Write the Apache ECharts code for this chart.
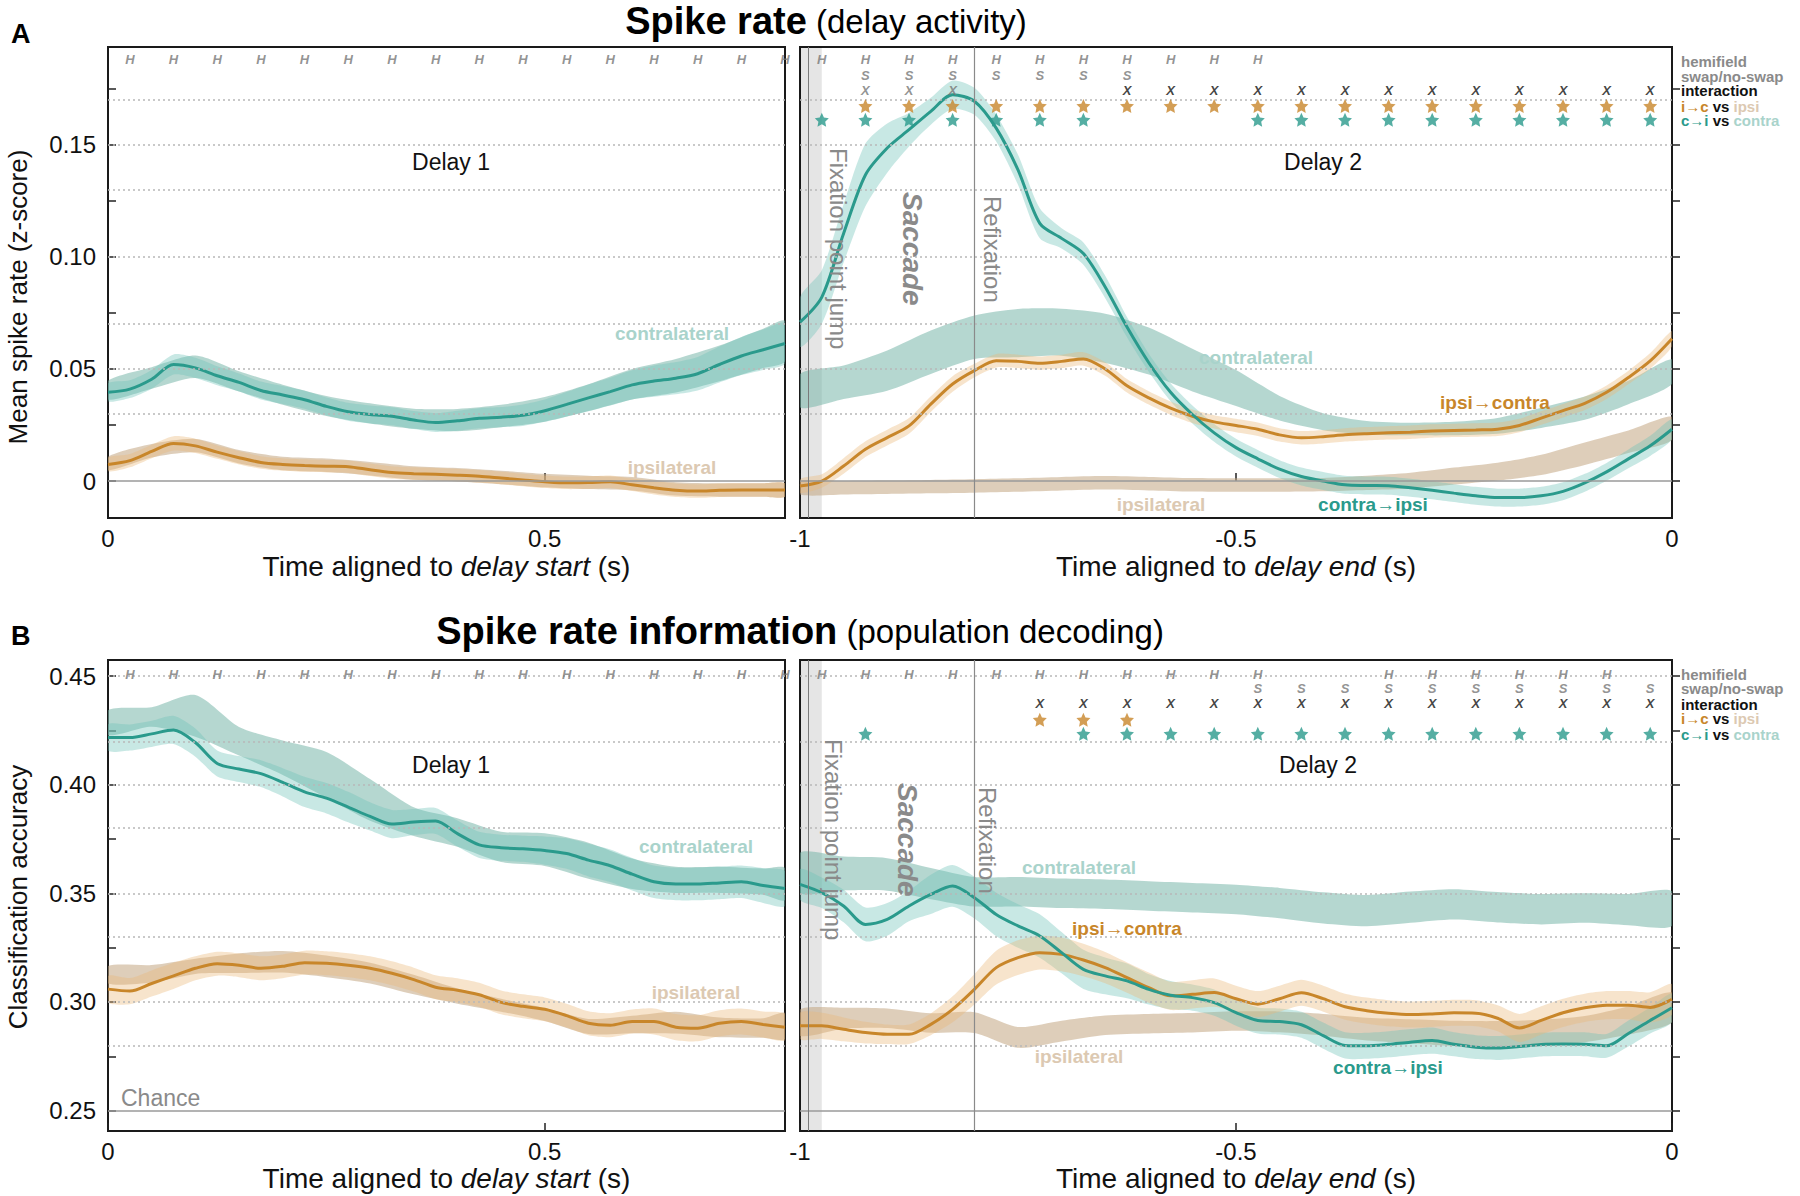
<!DOCTYPE html>
<html>
<head>
<meta charset="utf-8">
<title>Spike rate (delay activity) / Spike rate information</title>
<script src="https://cdn.jsdelivr.net/npm/echarts@6.0.0/dist/echarts.min.js"></script>
<style>
  html, body { margin: 0; padding: 0; background: #fff; }
  #chart { width: 1800px; height: 1196px; }
</style>
</head>
<body>
<div id="chart"></div>
<script>
// sample times (s)
function steps(start, stop, step) {
  const out = [];
  for (let k = 0; start + k * step <= stop + 1e-9; k++) out.push(+(start + k * step).toFixed(3));
  return out;
}
const tD1 = steps(0, 0.775, 0.025);               // delay 1 lines
const tD2 = steps(-1, 0, 0.025);                  // delay 2 lines
const tD1Band = steps(0, 0.75, 0.05).concat([0.775]);
const tD2Band = steps(-1, 0, 0.05);

// ---- A: mean spike rate (z-score) ----
const rateD1CtoI = [0.0396,0.041,0.0454,0.052,0.0505,0.047,0.044,0.0404,0.0384,0.0363,0.0333,0.0309,0.0297,0.0289,0.0272,0.0261,0.0269,0.028,0.0285,0.0294,0.0314,0.0342,0.0371,0.0399,0.0429,0.0446,0.0459,0.0479,0.052,0.0558,0.0586,0.0614];
const rateD1CtoIErr = [0.004,0.004,0.0042,0.0045,0.0045,0.0042,0.004,0.004,0.004,0.004,0.004,0.004,0.004,0.004,0.004,0.0042,0.0045,0.0045,0.0045,0.0048,0.005,0.0055,0.006,0.0062,0.0065,0.007,0.0072,0.0075,0.008,0.0085,0.009,0.009];
const rateD1ItoC = [0.0074,0.0091,0.0132,0.0168,0.0157,0.0129,0.0104,0.0083,0.0074,0.0069,0.0066,0.0064,0.005,0.0038,0.0033,0.003,0.0026,0.0021,0.0013,0.0005,-0.0003,-0.0008,-0.0007,-0.0003,-0.0017,-0.003,-0.0041,-0.0045,-0.0041,-0.004,-0.004,-0.004];
const rateD1ItoCErr = [0.003,0.003,0.003,0.0032,0.0032,0.003,0.003,0.0028,0.0028,0.0028,0.0028,0.0028,0.0028,0.0028,0.0028,0.0028,0.0028,0.0028,0.0028,0.0028,0.0028,0.0028,0.0028,0.0028,0.0028,0.003,0.003,0.003,0.003,0.003,0.003,0.003];
const rateD1Contra = [0.0405,0.046,0.051,0.0445,0.0385,0.0335,0.0302,0.0278,0.0272,0.029,0.032,0.0372,0.0432,0.047,0.0525,0.0592,0.0625];
const rateD1ContraErr = [0.0042,0.0048,0.005,0.0045,0.0045,0.0045,0.0045,0.0045,0.005,0.005,0.0055,0.006,0.0068,0.0075,0.008,0.0088,0.009];
const rateD1Ipsi = [0.0078,0.0135,0.0158,0.0108,0.0078,0.007,0.0055,0.0036,0.0028,0.0016,0.0002,-0.0006,-0.0012,-0.0035,-0.004,-0.004,-0.004];
const rateD1IpsiErr = [0.003,0.003,0.003,0.003,0.003,0.003,0.003,0.003,0.003,0.003,0.003,0.003,0.003,0.003,0.003,0.003,0.003];

const rateD2CtoI = [0.0709,0.0821,0.1105,0.1366,0.1486,0.1568,0.165,0.1724,0.1695,0.1575,0.1389,0.115,0.1083,0.1015,0.0866,0.0687,0.0528,0.0396,0.0297,0.0215,0.0149,0.0099,0.0053,0.002,0,-0.0017,-0.002,-0.0021,-0.003,-0.0041,-0.0054,-0.0066,-0.0074,-0.0074,-0.0066,-0.0046,-0.0008,0.0041,0.0099,0.0157,0.0231];
const rateD2CtoIErr = [0.011,0.012,0.013,0.014,0.011,0.0075,0.006,0.0063,0.006,0.006,0.0067,0.0067,0.0045,0.005,0.005,0.0045,0.004,0.004,0.004,0.004,0.004,0.004,0.004,0.004,0.004,0.004,0.004,0.004,0.004,0.004,0.004,0.004,0.004,0.004,0.004,0.004,0.004,0.004,0.0042,0.0045,0.0045];
const rateD2ItoC = [-0.0022,0,0.0067,0.0142,0.0194,0.0246,0.0343,0.0433,0.0493,0.0537,0.0534,0.0526,0.0534,0.0545,0.05,0.0425,0.0371,0.0325,0.0289,0.0264,0.0248,0.0231,0.0206,0.0193,0.0198,0.0206,0.0211,0.0215,0.0218,0.0223,0.0226,0.0228,0.0231,0.0248,0.0281,0.0314,0.0347,0.0396,0.0462,0.0536,0.0635];
const rateD2ItoCErr = [0.003,0.003,0.0035,0.0035,0.0035,0.0035,0.0035,0.0035,0.003,0.003,0.003,0.003,0.003,0.003,0.003,0.003,0.003,0.003,0.003,0.003,0.003,0.003,0.003,0.003,0.003,0.003,0.003,0.003,0.003,0.003,0.003,0.003,0.003,0.003,0.003,0.003,0.003,0.003,0.003,0.0035,0.0035];
const rateD2Contra = [0.0403,0.0441,0.0493,0.0575,0.0642,0.066,0.0664,0.0637,0.058,0.0495,0.0415,0.0325,0.0265,0.0238,0.0232,0.0234,0.0246,0.0282,0.0325,0.0395,0.0488];
const rateD2ContraErr = [0.0075,0.0075,0.009,0.0097,0.0097,0.0108,0.0105,0.011,0.0105,0.0095,0.008,0.0055,0.0038,0.003,0.0028,0.003,0.0035,0.0045,0.0052,0.0052,0.0055];
const rateD2Ipsi = [-0.003,-0.003,-0.0028,-0.0025,-0.0022,-0.0018,-0.0012,-0.0008,-0.0012,-0.0017,-0.0018,-0.0018,-0.0016,-0.0008,0.0002,0.0022,0.0042,0.0072,0.0122,0.0175,0.0235];
const rateD2IpsiErr = [0.003,0.003,0.003,0.003,0.003,0.003,0.003,0.003,0.003,0.003,0.003,0.003,0.003,0.0032,0.0035,0.0038,0.004,0.0045,0.005,0.005,0.0052];

// ---- B: classification accuracy ----
const infoD1CtoI = [0.4217,0.4217,0.4234,0.4252,0.4194,0.4098,0.4072,0.4051,0.4011,0.3967,0.3938,0.3897,0.3854,0.3819,0.3828,0.3833,0.3775,0.3723,0.371,0.3705,0.3697,0.3683,0.3653,0.3627,0.3588,0.3553,0.3543,0.3543,0.3548,0.3553,0.3536,0.3522];
const infoD1CtoIErr = [0.006,0.006,0.006,0.0065,0.0065,0.006,0.006,0.0062,0.0065,0.007,0.007,0.007,0.0065,0.0065,0.006,0.006,0.006,0.006,0.006,0.006,0.0065,0.007,0.0075,0.0075,0.0075,0.0075,0.0075,0.0075,0.0075,0.0075,0.008,0.008];
const infoD1ItoC = [0.3059,0.305,0.3085,0.312,0.3155,0.3176,0.3169,0.3155,0.3164,0.3181,0.3178,0.3169,0.3155,0.3132,0.3103,0.3068,0.3054,0.3033,0.2998,0.298,0.2966,0.2937,0.2902,0.2893,0.291,0.291,0.2884,0.2879,0.2902,0.291,0.2896,0.2884];
const infoD1ItoCErr = [0.006,0.006,0.006,0.006,0.0055,0.0055,0.0055,0.0055,0.0055,0.0055,0.0055,0.0055,0.0055,0.0055,0.0055,0.0055,0.0055,0.0055,0.0055,0.0055,0.0055,0.0055,0.0055,0.0055,0.0055,0.006,0.006,0.006,0.006,0.006,0.006,0.006];
const infoD1Contra = [0.4286,0.4312,0.4317,0.42,0.4124,0.4045,0.393,0.383,0.378,0.3714,0.3701,0.365,0.359,0.3562,0.3562,0.3554,0.3543];
const infoD1ContraErr = [0.0057,0.0045,0.0096,0.0066,0.0079,0.0105,0.0096,0.0066,0.0066,0.007,0.0075,0.0083,0.007,0.006,0.006,0.006,0.0074];
const infoD1Ipsi = [0.3125,0.313,0.3164,0.3178,0.3185,0.3164,0.3133,0.308,0.3027,0.2985,0.2942,0.2887,0.2896,0.2905,0.2883,0.288,0.2889];
const infoD1IpsiErr = [0.004,0.004,0.0035,0.0045,0.005,0.005,0.0048,0.0045,0.0035,0.003,0.003,0.0035,0.004,0.005,0.0045,0.0045,0.006];

const infoD2CtoI = [0.3541,0.3503,0.3442,0.3357,0.338,0.3442,0.3495,0.3534,0.348,0.3403,0.335,0.3304,0.3227,0.315,0.312,0.3097,0.3058,0.3031,0.302,0.2997,0.2951,0.2915,0.291,0.2895,0.2845,0.28,0.2798,0.2805,0.2815,0.2822,0.2805,0.2792,0.2788,0.2795,0.2804,0.2806,0.2805,0.2798,0.2855,0.2915,0.2973];
const infoD2CtoIErr = [0.007,0.007,0.0075,0.0078,0.0075,0.007,0.009,0.0096,0.0096,0.01,0.01,0.01,0.0095,0.009,0.0085,0.008,0.007,0.0065,0.006,0.006,0.006,0.006,0.006,0.006,0.006,0.006,0.006,0.006,0.006,0.006,0.0055,0.0055,0.0055,0.0055,0.0055,0.0055,0.0055,0.0055,0.006,0.006,0.0065];
const infoD2ItoC = [0.289,0.289,0.2874,0.2859,0.2851,0.2851,0.2897,0.2966,0.3058,0.3158,0.3204,0.3227,0.3219,0.3193,0.3158,0.3112,0.3066,0.3028,0.3035,0.3043,0.3015,0.299,0.3015,0.3042,0.3015,0.2978,0.296,0.2948,0.2942,0.2945,0.295,0.2948,0.2925,0.288,0.2915,0.295,0.2973,0.2985,0.2985,0.2975,0.3012];
const infoD2ItoCErr = [0.006,0.006,0.0055,0.005,0.0045,0.0045,0.005,0.006,0.007,0.0078,0.008,0.0078,0.0078,0.0075,0.0072,0.007,0.007,0.0065,0.0065,0.0065,0.006,0.006,0.006,0.006,0.006,0.006,0.006,0.006,0.006,0.006,0.006,0.006,0.006,0.0065,0.0065,0.0065,0.0065,0.0065,0.0065,0.007,0.007];
const infoD2Contra = [0.3595,0.3591,0.3587,0.3545,0.3507,0.3507,0.35,0.3496,0.3488,0.348,0.3472,0.3455,0.3433,0.342,0.3436,0.3449,0.3436,0.3427,0.3432,0.3425,0.343];
const infoD2ContraErr = [0.0092,0.0078,0.0075,0.0072,0.0068,0.0068,0.0068,0.0068,0.0068,0.0068,0.0068,0.007,0.0072,0.0072,0.0072,0.007,0.007,0.007,0.0068,0.0072,0.008];
const infoD2Ipsi = [0.2905,0.2925,0.2925,0.2903,0.2905,0.2837,0.2866,0.2893,0.29,0.2904,0.2912,0.2908,0.2895,0.2875,0.2865,0.2855,0.2852,0.2858,0.2875,0.2915,0.2975];
const infoD2IpsiErr = [0.006,0.0048,0.0045,0.0045,0.0048,0.0048,0.0048,0.0045,0.0045,0.0045,0.0045,0.0048,0.005,0.0052,0.0055,0.0058,0.006,0.006,0.006,0.0065,0.0068];

// significance markers: 50 ms bin indices
const rateD1Hemi = [0,1,2,3,4,5,6,7,8,9,10,11,12,13,14,15];
const rateD2Hemi = [0,1,2,3,4,5,6,7,8,9,10];
const rateD2Swap = [1,2,3,4,5,6,7];
const rateD2InterWeak = [1,2,3];
const rateD2Inter = [7,8,9,10,11,12,13,14,15,16,17,18,19];
const rateD2IcStar = [1,2,3,4,5,6,7,8,9,10,11,12,13,14,15,16,17,18,19];
const rateD2CiStar = [0,1,2,3,4,5,6,10,11,12,13,14,15,16,17,18,19];
const infoD1Hemi = [0,1,2,3,4,5,6,7,8,9,10,11,12,13,14,15];
const infoD2Hemi = [0,1,2,3,4,5,6,7,8,9,10,13,14,15,16,17,18];
const infoD2Swap = [10,11,12,13,14,15,16,17,18,19];
const infoD2Inter = [5,6,7,8,9,10,11,12,13,14,15,16,17,18,19];
const infoD2IcStar = [5,6,7];
const infoD2CiStar = [1,6,7,8,9,10,11,12,13,14,15,16,17,18,19];

const yTicksRate = [0, 0.025, 0.05, 0.075, 0.1, 0.125, 0.15, 0.175];
const yLabelsRate = [0, 0.05, 0.1, 0.15];
const yTicksInfo = [0.25, 0.275, 0.3, 0.325, 0.35, 0.375, 0.4, 0.425, 0.45];
const yLabelsInfo = [0.25, 0.3, 0.35, 0.4, 0.45];

// ---------------------------------------------------------------
const FONT = '"Liberation Sans", Arial, Helvetica, sans-serif';
const TEAL = '#2a9a8c', ORANGE = '#c8862a';
const LIGHT_TEAL = '#a9d3cb', LIGHT_TAN = '#dcc9b2', GREY = '#8a8a8a';
const C_CONTRA = 'rgba(120,182,170,0.55)';
const C_CTOI = 'rgba(110,195,185,0.38)';
const C_IPSI = 'rgba(195,165,130,0.55)';
const C_ITOC = 'rgba(235,185,120,0.38)';
const STAR = 'path://M12 1.5l3.1 6.6 7.2.9-5.3 5 1.4 7.1L12 17.6l-6.4 3.5 1.4-7.1-5.3-5 7.2-.9z';

const series = [];

// shaded band between center-half and center+half, drawn as one polygon
function band(gi, t, center, half, color) {
  const data = t.map((x, i) => [x, center[i] - half[i], center[i] + half[i]]);
  series.push({
    type: 'custom', xAxisIndex: gi, yAxisIndex: gi, silent: true, z: 2, clip: true,
    data: data, encode: { x: 0, y: [1, 2] },
    renderItem: function (params, api) {
      if (params.dataIndex !== 0) return;
      const up = [], lo = [];
      for (let i = 0; i < data.length; i++) {
        up.push(api.coord([data[i][0], data[i][2]]));
        lo.push(api.coord([data[i][0], data[i][1]]));
      }
      return { type: 'polygon', shape: { points: up.concat(lo.reverse()), smooth: 0.25 },
        style: { fill: color } };
    }
  });
}

function meanLine(gi, t, vals, color) {
  series.push({ type: 'line', xAxisIndex: gi, yAxisIndex: gi, symbol: 'none', smooth: 0.3,
    silent: true, z: 3, data: t.map((x, i) => [x, vals[i]]),
    lineStyle: { color: color, width: 3 } });
}

function guides(gi, gridVals, refVal, epochs) {
  const lines = gridVals.map(v => ({ yAxis: v, lineStyle: { type: [2, 3], color: '#b8b8b8', width: 1.5 } }));
  lines.push({ yAxis: refVal, lineStyle: { type: 'solid', color: '#9a9a9a', width: 1.5 } });
  const s = { type: 'line', xAxisIndex: gi, yAxisIndex: gi, data: [], z: 1, silent: true,
    markLine: { symbol: ['none', 'none'], silent: true, animation: false, label: { show: false }, data: lines } };
  if (epochs) {
    s.markArea = { silent: true, itemStyle: { color: 'rgba(0,0,0,0.1)' },
      data: [[{ xAxis: -1 }, { xAxis: -0.975 }]] };
    series.push(s);
    series.push({ type: 'line', xAxisIndex: gi, yAxisIndex: gi, data: [], z: 4, silent: true,
      markLine: { symbol: ['none', 'none'], silent: true, animation: false, label: { show: false },
        data: [
          { xAxis: -0.987, lineStyle: { type: 'solid', color: '#7a7a7a', width: 1 } },
          { xAxis: -0.8, lineStyle: { type: 'solid', color: '#8a8a8a', width: 1.2 } }
        ] } });
  } else {
    series.push(s);
  }
}

function letterRow(gi, bins, t0, rowY, text, color) {
  series.push({ type: 'scatter', xAxisIndex: gi, yAxisIndex: gi, silent: true, z: 6,
    data: bins.map(k => [t0 + 0.05 * k, rowY]), symbolSize: 1,
    itemStyle: { color: 'rgba(0,0,0,0)' },
    label: { show: true, position: 'inside', formatter: text, color: color, fontSize: 13,
      lineHeight: 12, fontWeight: 'bold', fontStyle: 'italic', fontFamily: FONT } });
}

function starRow(gi, bins, t0, rowY, color) {
  series.push({ type: 'scatter', xAxisIndex: gi, yAxisIndex: gi, silent: true, z: 6,
    data: bins.map(k => [t0 + 0.05 * k, rowY]), symbol: STAR, symbolSize: 14,
    itemStyle: { color: color } });
}

// grid 0: A delay 1, grid 1: A delay 2, grid 2: B delay 1, grid 3: B delay 2
guides(0, yTicksRate.slice(1), 0, false);
guides(1, yTicksRate.slice(1), 0, true);
guides(2, yTicksInfo.slice(1), 0.25, false);
guides(3, yTicksInfo.slice(1), 0.25, true);

band(0, tD1Band, rateD1Contra, rateD1ContraErr, C_CONTRA);
band(0, tD1Band, rateD1Ipsi, rateD1IpsiErr, C_IPSI);
band(0, tD1, rateD1CtoI, rateD1CtoIErr, C_CTOI);
band(0, tD1, rateD1ItoC, rateD1ItoCErr, C_ITOC);
meanLine(0, tD1, rateD1ItoC, ORANGE);
meanLine(0, tD1, rateD1CtoI, TEAL);

band(1, tD2Band, rateD2Contra, rateD2ContraErr, C_CONTRA);
band(1, tD2Band, rateD2Ipsi, rateD2IpsiErr, C_IPSI);
band(1, tD2, rateD2CtoI, rateD2CtoIErr, C_CTOI);
band(1, tD2, rateD2ItoC, rateD2ItoCErr, C_ITOC);
meanLine(1, tD2, rateD2ItoC, ORANGE);
meanLine(1, tD2, rateD2CtoI, TEAL);

band(2, tD1Band, infoD1Contra, infoD1ContraErr, C_CONTRA);
band(2, tD1Band, infoD1Ipsi, infoD1IpsiErr, C_IPSI);
band(2, tD1, infoD1CtoI, infoD1CtoIErr, C_CTOI);
band(2, tD1, infoD1ItoC, infoD1ItoCErr, C_ITOC);
meanLine(2, tD1, infoD1ItoC, ORANGE);
meanLine(2, tD1, infoD1CtoI, TEAL);

band(3, tD2Band, infoD2Contra, infoD2ContraErr, C_CONTRA);
band(3, tD2Band, infoD2Ipsi, infoD2IpsiErr, C_IPSI);
band(3, tD2, infoD2CtoI, infoD2CtoIErr, C_CTOI);
band(3, tD2, infoD2ItoC, infoD2ItoCErr, C_ITOC);
meanLine(3, tD2, infoD2ItoC, ORANGE);
meanLine(3, tD2, infoD2CtoI, TEAL);

// marker rows (y in axis units)
const rowRate = { hemi: 0.1880, swap: 0.1812, inter: 0.1745, ic: 0.1674, ci: 0.1612 };
const rowInfo = { hemi: 0.4508, swap: 0.4443, inter: 0.4376, ic: 0.4299, ci: 0.4234 };

letterRow(0, rateD1Hemi, 0.025, rowRate.hemi, 'H', '#777');
letterRow(1, rateD2Hemi, -0.975, rowRate.hemi, 'H', '#777');
letterRow(1, rateD2Swap, -0.975, rowRate.swap, 'S', '#777');
letterRow(1, rateD2InterWeak, -0.975, rowRate.inter, 'X', '#777');
letterRow(1, rateD2Inter, -0.975, rowRate.inter, 'X', '#111');
starRow(1, rateD2IcStar, -0.975, rowRate.ic, ORANGE);
starRow(1, rateD2CiStar, -0.975, rowRate.ci, TEAL);

letterRow(2, infoD1Hemi, 0.025, rowInfo.hemi, 'H', '#777');
letterRow(3, infoD2Hemi, -0.975, rowInfo.hemi, 'H', '#777');
letterRow(3, infoD2Swap, -0.975, rowInfo.swap, 'S', '#777');
letterRow(3, infoD2Inter, -0.975, rowInfo.inter, 'X', '#111');
starRow(3, infoD2IcStar, -0.975, rowInfo.ic, ORANGE);
starRow(3, infoD2CiStar, -0.975, rowInfo.ci, TEAL);

// axes
function xAx(gi, min, max, ticks, italic, gap) {
  return { type: 'value', gridIndex: gi, min: min, max: max,
    axisLine: { show: false }, splitLine: { show: false },
    axisTick: { show: true, inside: true, length: 8, customValues: ticks, lineStyle: { color: '#222', width: 1.5 } },
    axisLabel: { customValues: ticks, margin: 8, fontSize: 24, color: '#111', fontFamily: FONT,
      formatter: v => (v === 0 ? '0' : String(v)) },
    name: 'Time aligned to {i|' + italic + '} (s)', nameLocation: 'middle', nameGap: gap,
    nameTextStyle: { fontSize: 28, color: '#111', fontFamily: FONT,
      rich: { i: { fontSize: 28, fontStyle: 'italic', color: '#111', fontFamily: FONT } } } };
}
function yAx(gi, min, max, ticks, labels, showLabels) {
  return { type: 'value', gridIndex: gi, min: min, max: max,
    axisLine: { show: false }, splitLine: { show: false },
    axisTick: { show: true, inside: true, length: 8, customValues: ticks, lineStyle: { color: '#222', width: 1.5 } },
    axisLabel: { show: showLabels, customValues: labels, margin: 12, fontSize: 24, color: '#111', fontFamily: FONT,
      formatter: v => (v === 0 ? '0' : v.toFixed(2)) } };
}

function txt(x, y, text, size, color, extra, rotation) {
  const el = { type: 'text', x: x, y: y, silent: true, z: 100,
    style: Object.assign({ text: text, fontSize: size, fontFamily: FONT, fill: color,
      align: 'center', verticalAlign: 'middle' }, extra || {}) };
  if (rotation) el.rotation = rotation;
  return el;
}
function richPart(size, color, weight, style, lh) {
  const r = { fontSize: size, fill: color, fontWeight: weight || 'normal', fontStyle: style || 'normal', fontFamily: FONT };
  if (lh) r.lineHeight = lh;
  return r;
}
function keyRows(x, ys) {
  const b = { align: 'left', fontWeight: 'bold', lineHeight: 12 };
  return [
    txt(x, ys[0], 'hemifield', 15, GREY, b),
    txt(x, ys[1], 'swap/no-swap', 15, GREY, b),
    txt(x, ys[2], 'interaction', 15, '#111', b),
    txt(x, ys[3], '{a|i→c} {k|vs} {b|ipsi}', 15, '#111', Object.assign({
      rich: { a: richPart(15, ORANGE, 'bold', null, 12), k: richPart(15, '#111', 'bold', null, 12),
        b: richPart(15, LIGHT_TAN, 'bold', null, 12) } }, b)),
    txt(x, ys[4], '{a|c→i} {k|vs} {b|contra}', 15, '#111', Object.assign({
      rich: { a: richPart(15, TEAL, 'bold', null, 12), k: richPart(15, '#111', 'bold', null, 12),
        b: richPart(15, LIGHT_TEAL, 'bold', null, 12) } }, b))
  ];
}
function epochText(xFix, xSac, xRef, top) {
  const down = -Math.PI / 2, l = { align: 'left' };
  return [
    txt(xFix, top, 'Fixation point jump', 24, GREY, l, down),
    txt(xSac, top + 44, 'Saccade', 28, GREY, { align: 'left', fontWeight: 'bold', fontStyle: 'italic' }, down),
    txt(xRef, top + 48, 'Refixation', 24, GREY, l, down)
  ];
}

const bold19 = { fontWeight: 'bold' };
const graphic = [
  txt(826, 21, '{b|Spike rate} {n|(delay activity)}', 33, '#000', {
    rich: { b: richPart(38, '#000', 'bold'), n: richPart(33, '#000') } }),
  txt(800, 631, '{b|Spike rate information} {n|(population decoding)}', 33, '#000', {
    rich: { b: richPart(38, '#000', 'bold'), n: richPart(33, '#000') } }),
  txt(11, 34, 'A', 27, '#000', { align: 'left', fontWeight: 'bold' }),
  txt(11, 636, 'B', 27, '#000', { align: 'left', fontWeight: 'bold' }),
  txt(18, 297, 'Mean spike rate (z-score)', 26, '#111', null, Math.PI / 2),
  txt(18, 897, 'Classification accuracy', 26, '#111', null, Math.PI / 2),
  txt(451, 162, 'Delay 1', 23, '#111'),
  txt(1323, 162, 'Delay 2', 23, '#111'),
  txt(451, 765, 'Delay 1', 23, '#111'),
  txt(1318, 765, 'Delay 2', 23, '#111'),
  txt(672, 333, 'contralateral', 19, LIGHT_TEAL, bold19),
  txt(672, 467, 'ipsilateral', 19, LIGHT_TAN, bold19),
  txt(1256, 357, 'contralateral', 19, LIGHT_TEAL, bold19),
  txt(1495, 402, 'ipsi→contra', 19, ORANGE, bold19),
  txt(1161, 504, 'ipsilateral', 19, LIGHT_TAN, bold19),
  txt(1373, 504, 'contra→ipsi', 19, TEAL, bold19),
  txt(696, 846, 'contralateral', 19, LIGHT_TEAL, bold19),
  txt(696, 992, 'ipsilateral', 19, LIGHT_TAN, bold19),
  txt(121, 1098, 'Chance', 23, GREY, { align: 'left' }),
  txt(1079, 867, 'contralateral', 19, LIGHT_TEAL, bold19),
  txt(1127, 928, 'ipsi→contra', 19, ORANGE, bold19),
  txt(1079, 1056, 'ipsilateral', 19, LIGHT_TAN, bold19),
  txt(1388, 1067, 'contra→ipsi', 19, TEAL, bold19)
].concat(
  keyRows(1681, [61, 76, 90, 106, 120]),
  keyRows(1681, [674, 688, 704, 718, 734]),
  epochText(838, 912, 992, 148),
  epochText(833, 907, 987, 739)
);

const gridStyle = { show: true, borderColor: '#1a1a1a', borderWidth: 2, backgroundColor: 'rgba(0,0,0,0)' };
const chart = echarts.init(document.getElementById('chart'), null, { renderer: 'svg' });
chart.setOption({
  animation: false,
  backgroundColor: '#fff',
  textStyle: { fontFamily: FONT },
  grid: [
    Object.assign({ left: 108, top: 47, width: 677, height: 471 }, gridStyle),
    Object.assign({ left: 800, top: 47, width: 872, height: 471 }, gridStyle),
    Object.assign({ left: 108, top: 660, width: 677, height: 471 }, gridStyle),
    Object.assign({ left: 800, top: 660, width: 872, height: 471 }, gridStyle)
  ],
  xAxis: [
    xAx(0, 0, 0.775, [0, 0.5], 'delay start', 34),
    xAx(1, -1, 0, [-1, -0.5, 0], 'delay end', 34),
    xAx(2, 0, 0.775, [0, 0.5], 'delay start', 33),
    xAx(3, -1, 0, [-1, -0.5, 0], 'delay end', 33)
  ],
  yAxis: [
    yAx(0, -0.0165, 0.1937, yTicksRate, yLabelsRate, true),
    yAx(1, -0.0165, 0.1937, yTicksRate, yLabelsRate, false),
    yAx(2, 0.2406, 0.4574, yTicksInfo, yLabelsInfo, true),
    yAx(3, 0.2406, 0.4574, yTicksInfo, yLabelsInfo, false)
  ],
  graphic: graphic,
  series: series
});
</script>
</body>
</html>
